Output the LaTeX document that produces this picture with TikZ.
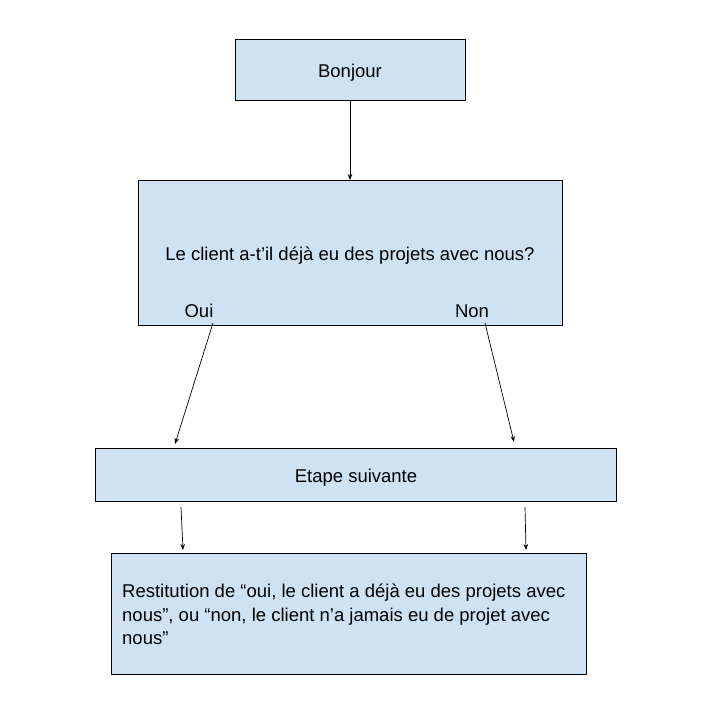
\documentclass[tikz,border=0pt]{standalone}
\usepackage{fontspec}
\setmainfont{Liberation Sans}
\usetikzlibrary{arrows.meta}
\definecolor{boxfill}{HTML}{CFE2F3}
\begin{document}
\begin{tikzpicture}[x=1pt,y=-1pt,
  box/.style={draw=black,fill=boxfill,line width=0.9pt},
  lbl/.style={inner sep=0pt,font=\fontsize{18.5}{22}\selectfont},
  conn/.style={line width=0.7pt,-{Stealth[length=6pt,width=4.5pt]}}]
\useasboundingbox[fill=white] (0,0) rectangle (713,703);
% boxes
\draw[box] (235,39) rectangle (465,100);
\node[lbl] (bonjour) at (350,72.5) {Bonjour};
\draw[box] (138,180) rectangle (562,325);
\node[lbl] (question) at (350,255.5) {Le client a-t’il déjà eu des projets avec nous?};
\node[lbl,anchor=base] (oui) at (199,318) {Oui};
\node[lbl,anchor=base] (non) at (472,318) {Non};
\draw[box] (95,448) rectangle (616,501);
\node[lbl] (etape) at (356,477.5) {Etape suivante};
\draw[box] (111,553) rectangle (586,674);
\node[lbl,anchor=north west,align=left,font=\fontsize{18.5}{23.5}\selectfont] (restit) at (122,584)
  {Restitution de “oui, le client a déjà eu des projets avec\\nous”, ou “non, le client n’a jamais eu de projet avec\\nous”};
% connector end points
\coordinate (b0) at (350,100);
\coordinate (b1) at (350,180);
\coordinate (o0) at (213,323);
\coordinate (o1) at (175,444);
\coordinate (n0) at (485,323);
\coordinate (n1) at (514,442);
\coordinate (l0) at (181,507);
\coordinate (l1) at (183,550);
\coordinate (r0) at (525,507);
\coordinate (r1) at (526,550);
\draw[conn] (b0) -- (b1);
\draw[conn] (o0) -- (o1);
\draw[conn] (n0) -- (n1);
\draw[conn] (l0) -- (l1);
\draw[conn] (r0) -- (r1);
\end{tikzpicture}
\end{document}
